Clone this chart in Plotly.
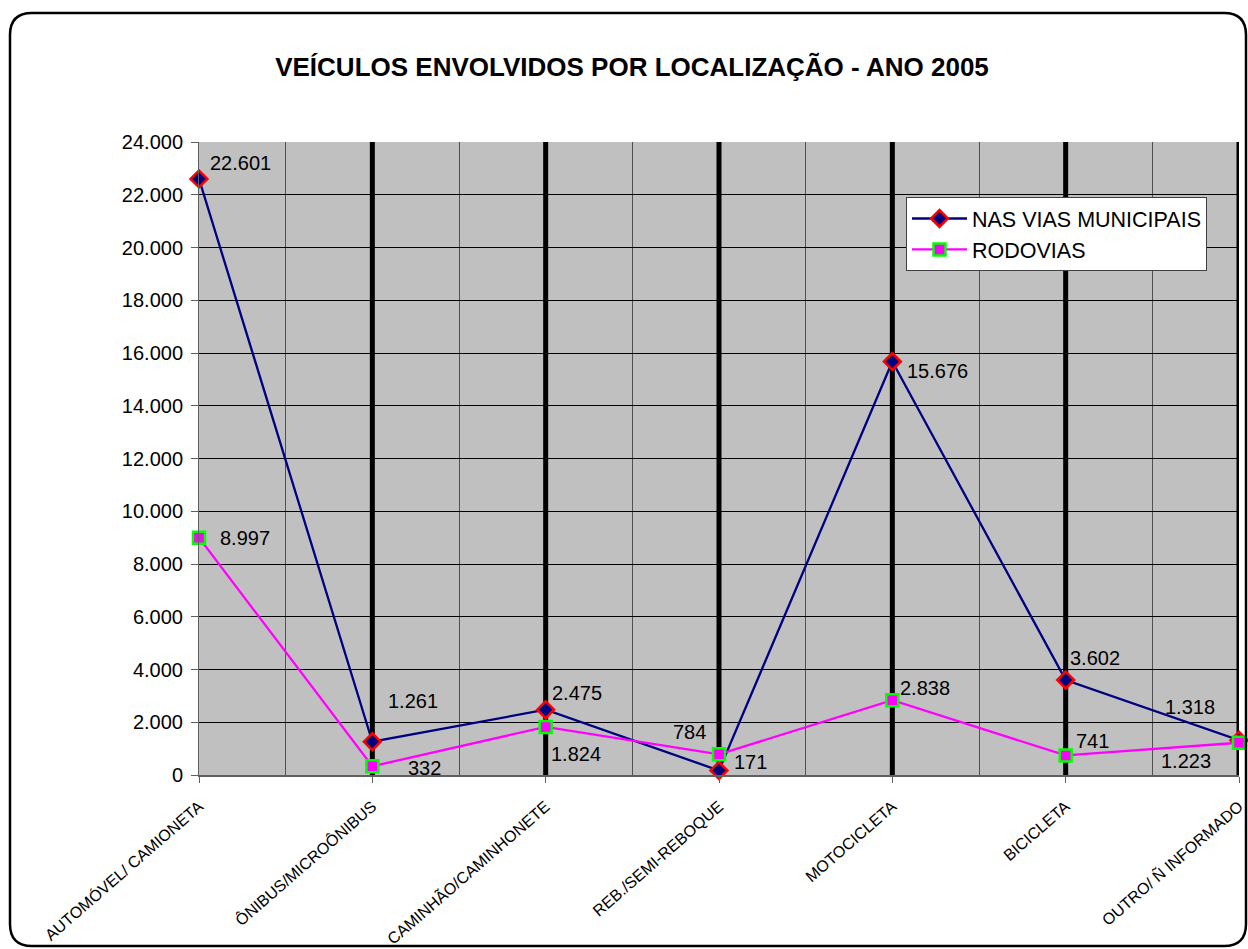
import plotly.graph_objects as go

categorias = ["AUTOMÓVEL/ CAMIONETA", "ÔNIBUS/MICROÔNIBUS", "CAMINHÃO/CAMINHONETE",
              "REB./SEMI-REBOQUE", "MOTOCICLETA", "BICICLETA", "OUTRO/ Ñ INFORMADO"]
vias_municipais = [22601, 1261, 2475, 171, 15676, 3602, 1318]
rodovias = [8997, 332, 1824, 784, 2838, 741, 1223]

W, H = 1248, 949
L, R, T, B = 199, 1239, 142, 775  # plot area in pixels

x = list(range(len(categorias)))

fig = go.Figure()
fig.add_trace(go.Scatter(
    x=x, y=vias_municipais, name="NAS VIAS MUNICIPAIS", mode="lines+markers",
    line=dict(color="#000080", width=2.3),
    marker=dict(symbol="diamond", size=13, color="#000080", line=dict(color="#FF0000", width=2.5)),
    cliponaxis=False,
))
fig.add_trace(go.Scatter(
    x=x, y=rodovias, name="RODOVIAS", mode="lines+markers",
    line=dict(color="#FF00FF", width=2.3),
    marker=dict(symbol="square", size=12, color="#FF00FF", line=dict(color="#00FF00", width=2.5)),
    cliponaxis=False,
))


def fmt(v):
    return f"{v:,}".replace(",", ".")


# label offsets (xanchor, xshift, yshift) for each point
off_vias = [("left", 9, 16), ("left", 14, 41), ("left", 4, 17), ("left", 13, 8),
            ("left", 13, -9), ("left", 2, 22), ("right", -22, 33)]
off_rod = [("left", 19, 0), ("left", 34, -2), ("left", 3, -27), ("right", -11, 22),
           ("left", 6, 12), ("left", 8, 14), ("right", -26, -18)]

for serie, offs in ((vias_municipais, off_vias), (rodovias, off_rod)):
    for i, v in enumerate(serie):
        xa, xs, ys = offs[i]
        fig.add_annotation(x=i, y=v, text=fmt(v), showarrow=False, xanchor=xa,
                           yanchor="middle", xshift=xs, yshift=ys,
                           font=dict(size=20, color="black"))

# thick black lines at categories
for i in x[1:]:
    fig.add_shape(type="line", xref="x", yref="paper", x0=i, x1=i, y0=0, y1=1,
                  line=dict(color="black", width=5), layer="between")


# rounded outer border (pixel -> paper)
def px(xp):
    return (xp - L) / (R - L)


def py(yp):
    return (B - yp) / (B - T)


x0, y0, x1, y1, r = 10, 13, 1246, 946, 22
path = (f"M {px(x0 + r)},{py(y0)} L {px(x1 - r)},{py(y0)} "
        f"Q {px(x1)},{py(y0)} {px(x1)},{py(y0 + r)} "
        f"L {px(x1)},{py(y1 - r)} Q {px(x1)},{py(y1)} {px(x1 - r)},{py(y1)} "
        f"L {px(x0 + r)},{py(y1)} Q {px(x0)},{py(y1)} {px(x0)},{py(y1 - r)} "
        f"L {px(x0)},{py(y0 + r)} Q {px(x0)},{py(y0)} {px(x0 + r)},{py(y0)} Z")
fig.add_shape(type="path", xref="paper", yref="paper", path=path,
              line=dict(color="black", width=2.5), layer="above")

fig.update_layout(
    width=W, height=H,
    margin=dict(l=L, r=W - R, t=T, b=H - B, pad=0),
    paper_bgcolor="white", plot_bgcolor="#C0C0C0",
    separators=",.",
    font=dict(family="Liberation Sans, Arial, sans-serif", color="black"),
    title=dict(text="<b>VEÍCULOS ENVOLVIDOS POR LOCALIZAÇÃO - ANO 2005</b>",
               x=(632 / W), xanchor="center", xref="container",
               y=1 - 67 / H, yanchor="middle", font=dict(size=26)),
    showlegend=True,
    legend=dict(x=px(906), y=py(197), xanchor="left", yanchor="top",
                bgcolor="white", bordercolor="#404040", borderwidth=1,
                font=dict(size=21.5), tracegroupgap=0, itemwidth=55),
)
fig.update_xaxes(
    range=[0, 6], tickmode="array", tickvals=x, ticktext=categorias, tickangle=-41,
    tickfont=dict(size=16), showgrid=False, zeroline=False, automargin=False,
    showline=True, linecolor="#606060", linewidth=2,
    ticks="outside", ticklen=6, tickcolor="#606060", ticklabelstandoff=8,
    minor=dict(tickvals=[i + 0.5 for i in x[:-1]], showgrid=True,
               gridcolor="#505050", gridwidth=1, ticks=""),
)
fig.update_yaxes(
    range=[0, 24000], dtick=2000, tickformat=",d", tickfont=dict(size=20),
    showgrid=True, gridcolor="black", gridwidth=1, zeroline=False, automargin=False,
    showline=True, linecolor="#606060", linewidth=1,
    ticks="outside", ticklen=7, tickcolor="#606060", ticklabelstandoff=4,
)

fig.write_html("out.html", config={"displayModeBar": False},
               post_script="document.body.style.margin='0';")
